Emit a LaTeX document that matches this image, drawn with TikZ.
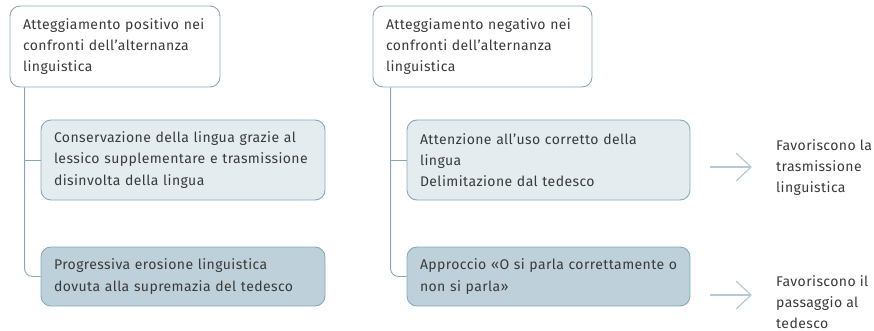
\documentclass[tikz,border=0pt]{standalone}
\usepackage{fontspec}
\setmainfont[LetterSpace=3]{Fira Sans}
\usetikzlibrary{arrows.meta,calc}
\definecolor{bordc}{HTML}{86A9BA}
\definecolor{lightf}{HTML}{E5ECF0}
\definecolor{darkf}{HTML}{BED0DA}
\definecolor{txtc}{HTML}{3A3A3A}
\definecolor{arrc}{HTML}{B5CAD5}
\begin{document}
\begin{tikzpicture}[x=1pt,y=-1pt,
  box/.style={draw=bordc, line width=0.9pt, rounded corners=10pt, align=left,
    inner xsep=13pt, inner ysep=0pt, text=txtc, font=\fontsize{14}{21.3}\selectfont},
  conn/.style={draw=bordc, line width=0.9pt},
  arr/.style={draw=arrc, line width=1.2pt, -{Straight Barb[length=15pt,width=28pt]}},
  lbl/.style={anchor=west, align=left, inner sep=0pt, text=txtc, font=\fontsize{14}{21.3}\selectfont}]
\useasboundingbox (0,0) rectangle (874,331);
% left column
\node[box, fill=white, text width=184pt, minimum height=81pt] (tl) at (115,46.5)
  {Atteggiamento positivo nei\\confronti dell’alternanza\\linguistica};
\node[box, fill=lightf, text width=258pt, minimum height=80pt] (lm) at (183,160)
  {Conservazione della lingua grazie al\\lessico supplementare e trasmissione\\disinvolta della lingua};
\node[box, fill=darkf, text width=258pt, minimum height=59pt] (lb) at (183,276.5)
  {Progressiva erosione linguistica\\dovuta alla supremazia del tedesco};
% right column
\node[box, fill=white, text width=193pt, minimum height=81pt] (tr) at (482.5,46.5)
  {Atteggiamento negativo nei\\confronti dell’alternanza\\linguistica};
\node[box, fill=lightf, text width=257pt, minimum height=80pt] (rm) at (548.5,160)
  {Attenzione all’uso corretto della\\lingua\\Delimitazione dal tedesco};
\node[box, fill=darkf, text width=257pt, minimum height=59pt] (rb) at (548.5,276.5)
  {\mbox{Approccio «O si parla correttamente o}\\non si parla»};
% labels
\node[lbl] (t1) at (776,167.5) {Favoriscono la\\trasmissione\\linguistica};
\node[lbl] (t2) at (776,302) {Favoriscono il\\passaggio al\\tedesco};
% connectors
\coordinate (lx) at ($(tl.south west)+(15,0)$);
\coordinate (rx) at ($(tr.south west)+(18,0)$);
\draw[conn, rounded corners=8pt] (lx) |- (lb.west);
\draw[conn] (lx |- lm.west) -- (lm.west);
\draw[conn, rounded corners=8pt] (rx) |- (rb.west);
\draw[conn] (rx |- rm.west) -- (rm.west);
% arrows
\coordinate (a1s) at (710,167);
\coordinate (a1e) at (752,167);
\coordinate (a2s) at (710,295);
\coordinate (a2e) at (752,295);
\draw[arr] (a1s) -- (a1e);
\draw[arr] (a2s) -- (a2e);
\end{tikzpicture}
\end{document}
